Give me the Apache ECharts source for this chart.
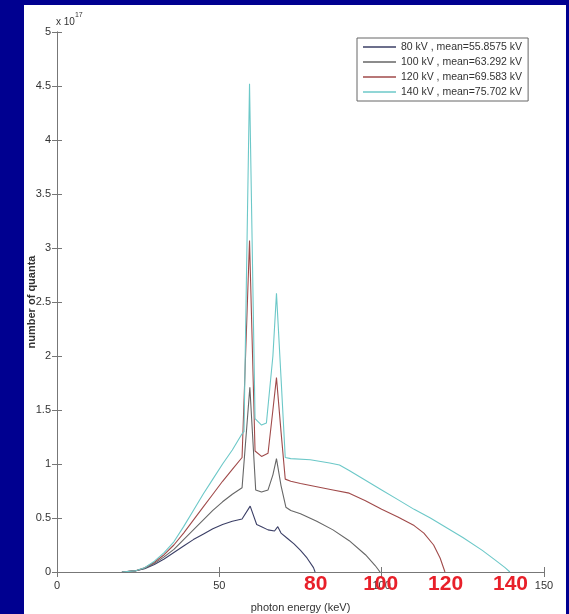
<!DOCTYPE html>
<html><head><meta charset="utf-8">
<script src="https://cdn.jsdelivr.net/npm/echarts@6/dist/echarts.min.js"></script>
<style>html,body{margin:0;padding:0;background:#000090}#c{width:569px;height:614px}</style>
</head><body><div id="c"></div>
<script>
// photon energy (keV) and number of quanta (x 1e17)
const e80 = [20,24,27,30,33,36,39,42,45,48,51,54,57,57.6,59.5,61.5,63,65,67,68,69,71,73,75,77,79,79.5];
const n80 = [0,0.01,0.03,0.07,0.12,0.18,0.24,0.3,0.35,0.4,0.44,0.47,0.49,0.5,0.61,0.44,0.42,0.39,0.38,0.42,0.36,0.31,0.26,0.2,0.13,0.04,0];
const e100 = [20,24,27,30,33,36,39,42,45,48,51,54,57,57.6,59.4,61.2,63,65,66.5,67.6,69,70.5,72,75,80,85,90,95,98,99.5];
const n100 = [0,0.01,0.035,0.08,0.14,0.21,0.3,0.39,0.48,0.57,0.65,0.72,0.78,0.79,1.71,0.76,0.74,0.76,0.9,1.05,0.8,0.6,0.57,0.54,0.47,0.39,0.29,0.16,0.06,0];
const e120 = [20,24,27,30,33,36,39,42,45,48,51,54,57,57.6,59.3,61,63,65,66.5,67.6,69,70.3,72,75,80,85,90,95,100,105,110,113,116,118,119.5];
const n120 = [0,0.01,0.04,0.09,0.16,0.25,0.36,0.48,0.6,0.72,0.84,0.95,1.06,1.07,3.07,1.12,1.07,1.1,1.5,1.8,1.3,0.86,0.84,0.82,0.79,0.76,0.73,0.66,0.58,0.51,0.43,0.36,0.25,0.13,0];
const e140 = [20,24,27,30,33,36,39,42,45,48,51,54,57,57.6,59.3,61,63,64.5,66.5,67.6,69,70.3,72,78,84,87,90,95,100,105,110,115,120,125,131,135,138,139.5];
const n140 = [0,0.01,0.04,0.1,0.18,0.28,0.42,0.57,0.72,0.86,1.0,1.13,1.28,1.3,4.52,1.42,1.36,1.38,2.0,2.58,1.8,1.06,1.05,1.04,1.01,0.99,0.94,0.85,0.76,0.67,0.58,0.5,0.41,0.32,0.2,0.11,0.04,0];
const seriesNames = ['80 kV , mean=55.8575 kV','100 kV , mean=63.292 kV','120 kV , mean=69.583 kV','140 kV , mean=75.702 kV'];
const seriesColors = ['#3b3f66','#666666','#a04a4a','#6cc8c8'];
const xTicks = [0,50,100,150];
const yTicks = [0,0.5,1,1.5,2,2.5,3,3.5,4,4.5,5];
const redLabels = [80,100,120,140];

const energies = [e80,e100,e120,e140];
const counts = [n80,n100,n120,n140];
const chart = echarts.init(document.getElementById('c'));
const axisCol = '#777';
const lblStyle = {color:'#333', fontSize:11, fontFamily:'Liberation Sans, Arial, sans-serif'};
const option = {
  backgroundColor:'#000090',
  animation:false,
  grid:{left:57,right:25,top:32,bottom:42,outerBoundsMode:'none'},
  legend:{
    orient:'vertical', left:357, top:38, padding:[3,6,3,6], itemGap:3,
    itemWidth:33, itemHeight:1.5, icon:'rect', backgroundColor:'#fff', borderColor:'#666', borderWidth:1,
    textStyle:{color:'#333', fontSize:10.5, lineHeight:12, fontFamily:'Liberation Sans, Arial, sans-serif'},
    data:seriesNames
  },
  xAxis:[
    {type:'value', min:0, max:150, interval:50, position:'bottom',
     axisLine:{lineStyle:{color:axisCol}}, axisTick:{inside:true,length:5,lineStyle:{color:axisCol}},
     axisLabel:Object.assign({margin:8}, lblStyle), splitLine:{show:false},
     name:'photon energy (keV)', nameLocation:'middle', nameGap:30,
     nameTextStyle:{color:'#333', fontSize:11, fontFamily:'Liberation Sans, Arial, sans-serif'}},
    {type:'value', min:0, max:150, interval:50, position:'top',
     axisLine:{lineStyle:{color:axisCol}}, axisTick:{inside:true,length:5,lineStyle:{color:axisCol}},
     axisLabel:{show:false}, splitLine:{show:false}}
  ],
  yAxis:[
    {type:'value', min:0, max:5, interval:0.5, position:'left',
     axisLine:{show:true,lineStyle:{color:axisCol}}, axisTick:{show:true,inside:true,length:5,lineStyle:{color:axisCol}},
     axisLabel:Object.assign({margin:6, formatter:v=>String(v)}, lblStyle), splitLine:{show:false},
     name:'number of quanta', nameLocation:'middle', nameGap:20, nameRotate:90, nameMoveOverlap:false,
     nameTextStyle:{color:'#333', fontSize:11, fontWeight:'bold', fontFamily:'Liberation Sans, Arial, sans-serif'}},
    {type:'value', min:0, max:5, interval:0.5, position:'right',
     axisLine:{show:true,lineStyle:{color:axisCol}}, axisTick:{show:true,inside:true,length:5,lineStyle:{color:axisCol}},
     axisLabel:{show:false}, splitLine:{show:false}}
  ],
  graphic:[
    {type:'rect', z:-10, shape:{x:24,y:5,width:542,height:609}, style:{fill:'#fff'}, silent:true},
    {type:'text', left:56, top:12, z:10, style:{
      text:'{a|x 10}{b|17}', rich:{a:{fontSize:10,fill:'#333',fontFamily:'Liberation Sans, Arial',verticalAlign:'bottom'},
                               b:{fontSize:7,fill:'#333',fontFamily:'Liberation Sans, Arial',padding:[0,0,8,0]}}}}
  ],
  series: seriesNames.map((nm,i)=>({
    name:nm, type:'line', xAxisIndex:0, yAxisIndex:0, showSymbol:false, symbol:'none',
    lineStyle:{width:1.1, color:seriesColors[i]}, itemStyle:{color:seriesColors[i]},
    data: energies[i].map((e,j)=>[e, counts[i][j]]), z:2+i
  }))
};
chart.setOption(option);
const extra = redLabels.map(v=>{
  const p = chart.convertToPixel({xAxisIndex:0,yAxisIndex:0},[v,0]);
  return {type:'text', z:20, x:p[0]-1, y:p[1]+12, style:{text:String(v), fill:'#e8202a', fontSize:21, fontWeight:'bold',
    fontFamily:'Liberation Sans, Arial, sans-serif', align:'center', verticalAlign:'middle', backgroundColor:'transparent'}};
});
chart.setOption({graphic: option.graphic.concat(extra)});
</script></body></html>
